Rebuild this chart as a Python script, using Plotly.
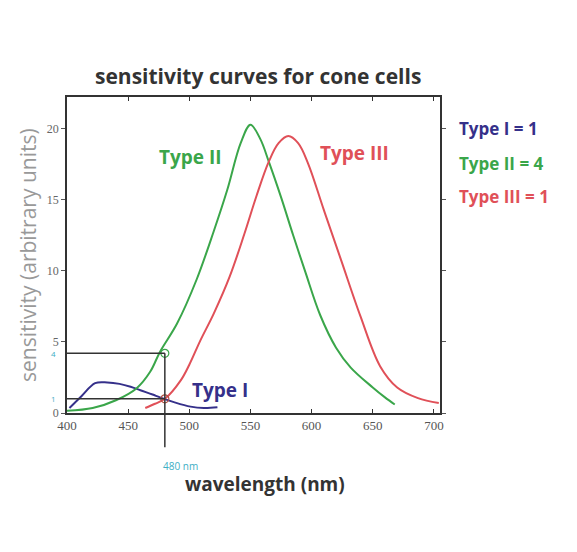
import plotly.graph_objects as go

# Data
type1_nm = [402, 412, 423, 433, 443, 452, 460, 470, 476, 488, 501, 512, 523]
type1_val = [0.35, 1.2, 2.1, 2.15, 2.05, 1.85, 1.6, 1.3, 1.1, 0.75, 0.45, 0.35, 0.4]

type2_nm = [400, 421, 440, 457, 468, 476, 490, 506, 520, 531, 542, 550, 558, 565, 575,
            585, 595, 607, 620, 632, 650, 660, 668]
type2_val = [0.15, 0.35, 0.9, 1.75, 2.9, 4.3, 6.3, 9.4, 12.8, 15.7, 19.0, 20.3, 19.3, 17.7, 15.2,
             12.5, 9.9, 6.9, 4.6, 3.2, 1.8, 1.1, 0.6]

type3_nm = [464, 472, 480, 493, 500, 509, 520, 533, 545, 555, 565, 573, 581, 589, 597,
            610, 624, 640, 656, 670, 687, 704]
type3_val = [0.35, 0.65, 1.0, 2.3, 3.4, 5.1, 7.0, 9.6, 12.6, 15.3, 17.7, 19.0, 19.5, 19.0, 17.6,
             14.3, 10.8, 6.8, 3.3, 1.8, 1.05, 0.7]

marker_nm = 480
marker_vals = [4.2, 1.0]
x_ticks = [400, 450, 500, 550, 600, 650, 700]
y_ticks = [0, 5, 10, 15, 20]

BLUE = "#35308a"
GREEN = "#3aa64a"
RED = "#e05058"
TEAL = "#40aec4"
FONT = "Open Sans"

fig = go.Figure()
fig.add_trace(go.Scatter(x=type1_nm, y=type1_val, mode="lines", line=dict(color=BLUE, width=2, shape="spline")))
fig.add_trace(go.Scatter(x=type2_nm, y=type2_val, mode="lines", line=dict(color=GREEN, width=2, shape="spline")))
fig.add_trace(go.Scatter(x=type3_nm, y=type3_val, mode="lines", line=dict(color=RED, width=2, shape="spline")))

# guide lines at 480 nm
for v in marker_vals:
    fig.add_shape(type="line", xref="x", yref="y", x0=400, x1=marker_nm, y0=v, y1=v,
                  line=dict(color="#333333", width=1.5))
fig.add_shape(type="line", xref="x", yref="paper", x0=marker_nm, x1=marker_nm,
              y0=marker_vals[0] / 22.25, y1=-0.108, line=dict(color="#333333", width=1.5))

fig.add_trace(go.Scatter(x=[marker_nm, marker_nm], y=marker_vals, mode="markers",
                         marker=dict(size=8, color="rgba(0,0,0,0)",
                                     line=dict(color=[GREEN, "#b05040"], width=1.2))))


def A(**kw):
    d = dict(showarrow=False, xanchor="center", yanchor="middle")
    d.update(kw)
    return d


ann = []
ann.append(A(x=501, y=18.0, xref="x", yref="y", text="<b>Type II</b>",
             font=dict(color=GREEN, size=19, family=FONT)))
ann.append(A(x=635, y=18.3, xref="x", yref="y", text="<b>Type III</b>",
             font=dict(color=RED, size=19, family=FONT)))
ann.append(A(x=525, y=1.6, xref="x", yref="y", text="<b>Type I</b>",
             font=dict(color=BLUE, size=19, family=FONT)))
for txt, col, yp in [("Type I = 1", BLUE, 0.90), ("Type II = 4", GREEN, 0.79), ("Type III = 1", RED, 0.684)]:
    ann.append(A(x=1.045, y=yp, xref="paper", yref="paper", text="<b>" + txt + "</b>",
                 xanchor="left", font=dict(color=col, size=17, family=FONT)))
for v, lab in zip(marker_vals, ["4", "1"]):
    ann.append(A(x=-0.025, y=v, xref="paper", yref="y", text=lab, xanchor="right",
                 font=dict(color=TEAL, size=8, family=FONT)))
ann.append(A(x=(180 - 67) / 373, y=-(466 - 413) / 316, xref="paper", yref="paper", text="480 nm",
             font=dict(color=TEAL, size=10, family=FONT)))
ann.append(A(x=(265 - 67) / 373, y=-(484 - 413) / 316, xref="paper", yref="paper",
             text="<b>wavelength (nm)</b>", font=dict(color="#333333", size=19, family=FONT)))
ann.append(A(x=(28 - 67) / 373, y=(413 - 255) / 316, xref="paper", yref="paper",
             text="sensitivity (arbitrary units)", textangle=-90,
             font=dict(color="#999999", size=21, family=FONT)))
ann.append(A(x=(258 - 67) / 373, y=(413 - 76) / 316, xref="paper", yref="paper",
             text="<b>sensitivity curves for cone cells</b>",
             font=dict(color="#333333", size=21, family=FONT)))

fig.update_layout(
    width=577, height=552,
    margin=dict(l=67, r=137, t=97, b=139),
    paper_bgcolor="white", plot_bgcolor="white",
    showlegend=False,
    annotations=ann,
    xaxis=dict(range=[400, 705], tickvals=x_ticks, showgrid=False, zeroline=False,
               showline=True, linecolor="#333333", linewidth=1.5, mirror="ticks",
               ticks="inside", ticklen=4, tickcolor="#333333",
               tickfont=dict(size=13, color="#555555", family="Liberation Serif")),
    yaxis=dict(range=[0, 22.25], tickvals=y_ticks, showgrid=False, zeroline=False,
               showline=True, linecolor="#333333", linewidth=1.5, mirror="ticks",
               ticks="outside", ticklen=4, tickcolor="#555555",
               tickfont=dict(size=12, color="#666666", family="Liberation Serif")),
)

fig.write_html("out.html")
